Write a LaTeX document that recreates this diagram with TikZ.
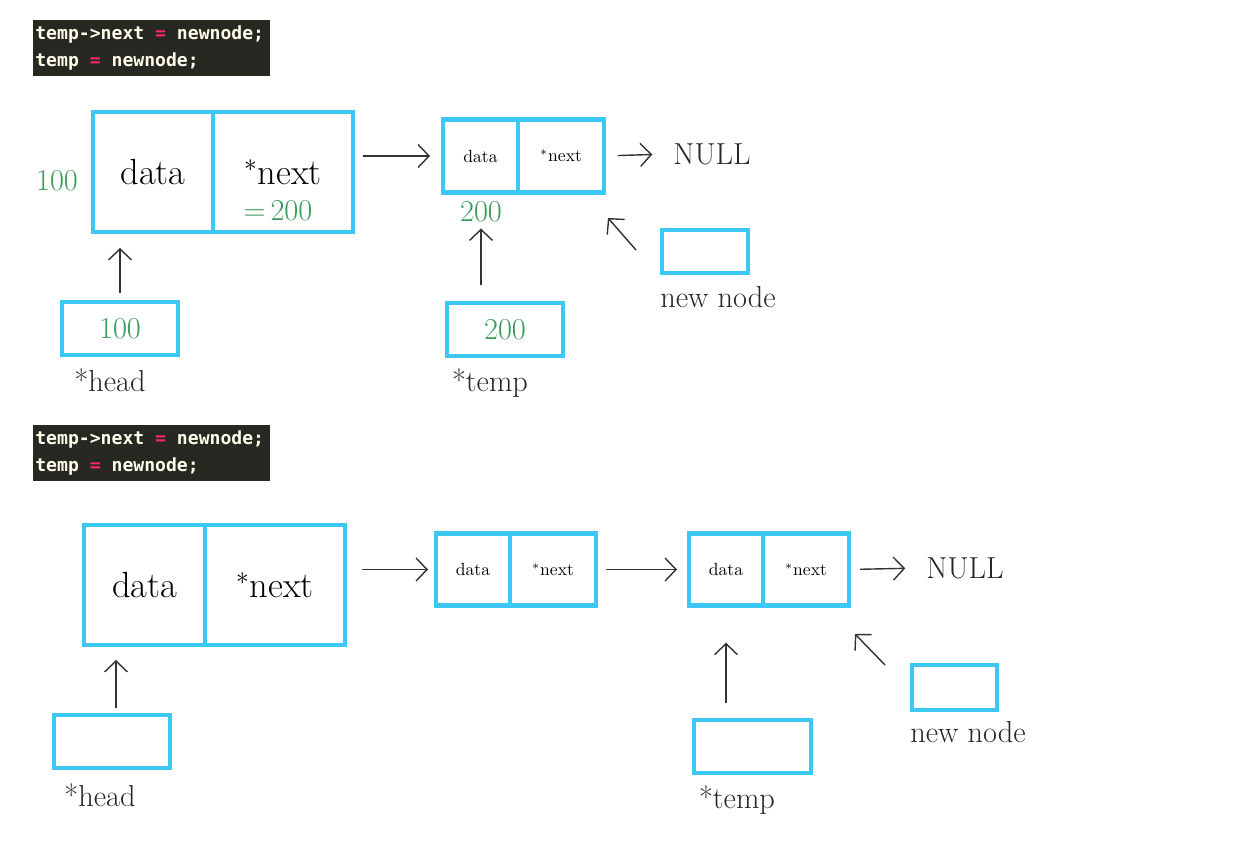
\documentclass[tikz,border=0pt]{standalone}
\usepackage{fontspec}
\newfontfamily\codefont{DejaVu Sans Mono}
\usetikzlibrary{arrows.meta, positioning}
\definecolor{cellblue}{HTML}{3CC8F2}
\definecolor{addrgreen}{HTML}{3A9B5C}
\definecolor{codebg}{HTML}{272822}
\definecolor{codepink}{HTML}{F92672}
\tikzset{
  cell/.style = {draw=cellblue, line width=2.8pt, inner sep=0pt, outer sep=0pt},
  bigc/.style = {cell, minimum height=2.4cm, font=\huge},
  smallc/.style = {cell, minimum height=1.45cm, font=\normalsize},
  ptr/.style = {cell, minimum width=2.32cm, minimum height=1.06cm,
    font=\LARGE, text=addrgreen},
  lnk/.style = {-{Straight Barb[length=2.2mm, width=4.6mm]}, line width=0.8pt,
    draw=black!80},
  hand/.style = {font=\LARGE, text=black!85},
  addr/.style = {font=\LARGE, text=addrgreen},
  code/.style = {fill=codebg, text=white!92!yellow, anchor=north west,
    font=\codefont\bfseries\fontsize{10.3}{15}\selectfont,
    text width=4.66cm, inner xsep=0.04cm, minimum height=1.06cm, align=left}
}
\newcommand{\cSp}{\hspace*{0.602em}}
\newcommand{\cEq}{\cSp\textcolor{codepink}{=}\cSp}
\newcommand{\nxt}{$^{*}$next}

\begin{document}
\begin{tikzpicture}[x=0.02cm, y=-0.02cm]
  \fill [white] (0,0) rectangle (1246,848);
  \useasboundingbox (0,0) rectangle (1246,848);
  % first state
  \node [code] (c1) at (33,20) {temp->next\cEq newnode;\\temp\cEq newnode;};
  \node [bigc, minimum width=2.4cm] (a1d) at (153,172) {data};
  \node [bigc, minimum width=2.8cm, right=0pt of a1d] (a1n) {\nxt};
  \node [addr] (a1addr) at (57,181) {100};
  \node [addr] (a1val) at (278,211) {=\,200};
  \node [smallc, minimum width=1.5cm] (b1d) at (480.5,156) {data};
  \node [smallc, minimum width=1.72cm, right=0pt of b1d] (b1n) {\nxt};
  \node [addr] (b1addr) at (481,212) {200};
  \node [hand] (null1) at (712,154) {NULL};
  \node [ptr] (hd1) at (120,328.5) {100};
  \node [hand] (hd1l) at (110,380) {*head};
  \node [ptr] (tp1) at (505,329.5) {200};
  \node [hand] (tp1l) at (490,383) {*temp};
  \node [ptr, minimum width=1.72cm, minimum height=0.86cm] (nn1) at (705,251.5) {};
  \node [hand] (nn1l) at (718,297) {new node};
  \coordinate (nn1from) at (636,250);
  \coordinate (nn1to) at (608,218);
  \draw [lnk, shorten <=0.18cm, shorten >=0.32cm] (hd1.north) -- (hd1.north |- a1d.south);
  \draw [lnk, shorten <=0.2cm, shorten >=0.26cm] (a1n.east |- b1d.west) -- (b1d.west);
  \draw [lnk, shorten <=0.28cm, shorten >=0.3cm] (b1n.east) -- (null1.west);
  \draw [lnk, shorten <=0.36cm] (tp1.north -| b1addr) -- (b1addr.south);
  \draw [lnk] (nn1from) -- (nn1to);
  % second state
  \node [code] (c2) at (33,425) {temp->next\cEq newnode;\\temp\cEq newnode;};
  \node [bigc, minimum width=2.42cm] (a2d) at (144.5,585) {data};
  \node [bigc, minimum width=2.8cm, right=0pt of a2d] (a2n) {\nxt};
  \node [smallc, minimum width=1.48cm] (b2d) at (473,569.5) {data};
  \node [smallc, minimum width=1.72cm, right=0pt of b2d] (b2n) {\nxt};
  \node [smallc, minimum width=1.48cm] (c2d) at (726,569.5) {data};
  \node [smallc, minimum width=1.72cm, right=0pt of c2d] (c2n) {\nxt};
  \node [hand] (null2) at (965,568) {NULL};
  \node [ptr] (hd2) at (112,741.5) {};
  \node [hand] (hd2l) at (100,795) {*head};
  \node [ptr, minimum width=2.34cm] (tp2) at (752.5,746.5) {};
  \node [hand] (tp2l) at (737,800) {*temp};
  \node [ptr, minimum width=1.7cm, minimum height=0.9cm] (nn2) at (954.5,687.5) {};
  \node [hand] (nn2l) at (968,732) {new node};
  \coordinate (nn2from) at (885,665);
  \coordinate (nn2to) at (855,634);
  \draw [lnk, shorten <=0.14cm, shorten >=0.3cm] (hd2.north -| 116,0) -- (116,0 |- a2d.south);
  \draw [lnk, shorten <=0.34cm, shorten >=0.16cm] (a2n.east |- b2d.west) -- (b2d.west);
  \draw [lnk, shorten <=0.2cm, shorten >=0.24cm] (b2n.east) -- (c2d.west);
  \draw [lnk, shorten <=0.22cm, shorten >=0.3cm] (c2n.east) -- (null2.west);
  \draw [lnk, shorten <=0.34cm, shorten >=0.74cm] (c2d.south |- tp2.north) -- (c2d.south);
  \draw [lnk] (nn2from) -- (nn2to);
\end{tikzpicture}
\end{document}
